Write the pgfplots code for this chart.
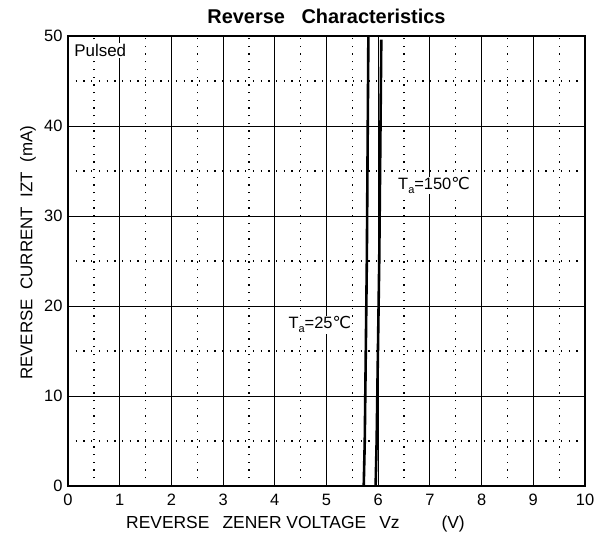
\documentclass[border=0pt]{standalone}
\usepackage{fontspec}
\setmainfont{Liberation Sans}
\newfontfamily\dejavu{DejaVu Sans}
\usepackage{pgfplots}
\pgfplotsset{compat=1.18}
\newcommand{\degc}{{\dejavu\char"2103}}
\begin{document}
\begin{tikzpicture}
\path[use as bounding box] (-68bp,-59bp) rectangle (536bp,486bp);
\begin{axis}[at={(0,0)}, anchor=south west, scale only axis,
  width=517bp, height=450bp,
  xmin=0, xmax=10, ymin=0, ymax=50,
  xtick={0,1,...,10}, ytick={0,10,...,50},
  minor x tick num=1, minor y tick num=1,
  grid=both,
  major grid style={black, line width=0.9bp},
  minor grid style={black, line width=1.3bp, dash pattern=on 1.3bp off 6.4bp},
  major tick length=0pt, minor tick length=0pt,
  axis line style={line width=1.6bp},
  /pgf/number format/assume math mode=true,
  tick label style={font=\fontsize{16.5}{18}\selectfont},
  xticklabel style={yshift=-5bp},
  yticklabel style={xshift=-2bp},
  title={\bfseries Reverse\ \ \ Characteristics},
  title style={font=\fontsize{20}{22}\selectfont, at={(axis description cs:0.5,1.031)}, anchor=center},
  xlabel={REVERSE\hspace{0.75em}ZENER VOLTAGE\hspace{0.75em}Vz\hspace{2.4em}(V)},
  xlabel style={font=\fontsize{17.5}{19}\selectfont, at={(axis description cs:0.44,-0.0844)}, anchor=center},
  ylabel={REVERSE\ \ CURRENT\ \ IZT\ \ (mA)},
  ylabel style={font=\fontsize{17}{19}\selectfont, at={(axis description cs:-0.0774,0.518)}, anchor=center},
]
\addplot[black, line width=2.6bp] coordinates {(5.72,0)(5.74,5)(5.78,25)(5.81,50)};
\addplot[black, line width=2.6bp] coordinates {(5.95,0)(5.97,5)(6.02,25)(6.06,49.6)};
\node[font=\fontsize{17}{19}\selectfont, fill=white, inner sep=1bp, anchor=west] at (axis cs:0.1,48.4) {Pulsed};
\node[font=\fontsize{16.5}{18}\selectfont, fill=white, inner sep=0.5bp] at (axis cs:4.87,17.9) {T\raisebox{-0.45ex}{\fontsize{11}{12}\selectfont a}=25\degc};
\node[font=\fontsize{16.5}{18}\selectfont, fill=white, inner sep=0.5bp] at (axis cs:7.08,33.4) {T\raisebox{-0.45ex}{\fontsize{11}{12}\selectfont a}=150\degc};
\end{axis}
\end{tikzpicture}
\end{document}
